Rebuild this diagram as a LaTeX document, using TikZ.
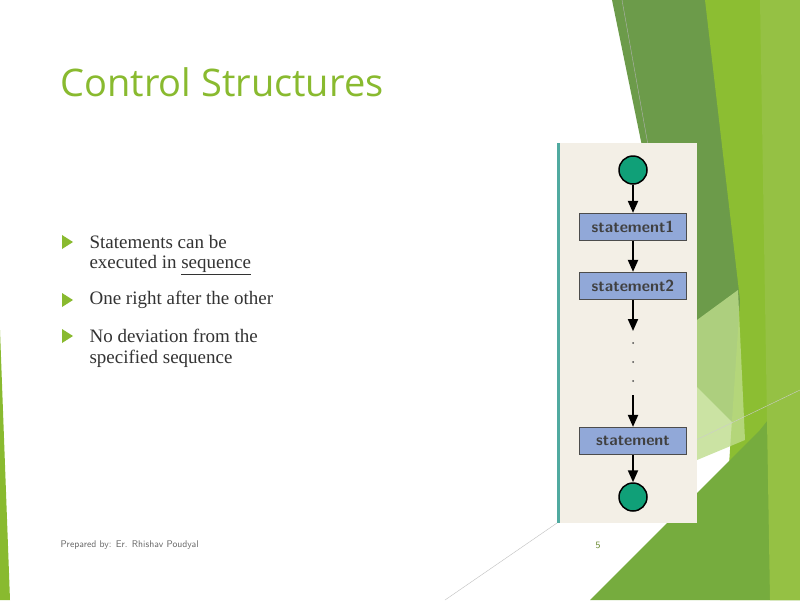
\documentclass[tikz,border=0pt]{standalone}
\usepackage{fontspec}
\setmainfont{Liberation Serif}
\newfontfamily\titlefont{Open Sans}
\usetikzlibrary{arrows.meta}
\definecolor{tgreen}{RGB}{137,186,47}
\definecolor{dgreen}{RGB}{108,155,74}
\definecolor{lgreen}{RGB}{140,190,50}
\definecolor{mgreen}{RGB}{118,172,62}
\definecolor{pgreen}{RGB}{190,220,140}
\definecolor{beige}{RGB}{243,239,230}
\definecolor{boxblue}{RGB}{145,168,216}
\definecolor{circ}{RGB}{16,160,120}
\definecolor{teal}{RGB}{80,170,160}
\tikzset{
  stmt/.style={draw=black!70,fill=boxblue,line width=1.2pt,minimum width=107pt,minimum height=27pt,inner sep=0pt,font=\fontsize{16}{16}\selectfont\sffamily\bfseries,text=black!75},
  endpt/.style={circle,draw=black,fill=circ,line width=1.5pt,minimum size=28pt,inner sep=0pt},
  flow/.style={-{Triangle[length=12pt,width=10pt]},line width=2pt},
  bul/.style={fill=tgreen},
  btext/.style={anchor=west,font=\fontsize{19}{19}\selectfont,text=black!80}
}
\begin{document}
\begin{tikzpicture}[x=1pt,y=-1pt]
\useasboundingbox (0,0) rectangle (800,600);
\fill[white] (0,0) rectangle (800,600);
% decorations
\fill[dgreen] (612,0) -- (740,0) -- (760,450) -- (690,380) -- cycle;
\fill[lgreen] (705,0) -- (800,0) -- (800,600) -- (720,600) -- (740,300) -- cycle;
\fill[pgreen,opacity=0.8] (697,320) -- (738,290) -- (745,440) -- (697,460) -- cycle;
\fill[mgreen] (590,600) -- (760,430) -- (800,380) -- (800,600) -- cycle;
\fill[tgreen!90!white] (760,0) -- (800,0) -- (800,600) -- (770,600) -- cycle;
\fill[tgreen] (0,330) -- (10,600) -- (0,600) -- cycle;
\draw[gray!60,line width=0.4pt] (622,0) -- (648,145);
\draw[gray!50,line width=0.4pt] (445,600) -- (557,523);
\draw[gray!40,line width=0.4pt] (696,440) -- (800,390);
% title
\node[anchor=west,font=\titlefont\fontsize{38}{38}\selectfont,text=tgreen] (title) at (57,82) {Control Structures};
% bullets
\foreach \y in {242,300,336} \fill[bul] (62,\y-7) -- (73,\y) -- (62,\y+7) -- cycle;
\node[btext] (b1a) at (86,242) {Statements can be};
\node[btext] (b1b) at (86,265) {executed in \underline{sequence}};
\node[btext] (b2) at (86,300) {One right after the other};
\node[btext] (b3a) at (86,336) {No deviation from the};
\node[btext] (b3b) at (86,359) {specified sequence};
% footer
\node[anchor=west,font=\sffamily\fontsize{9.7}{9.7}\selectfont,text=black!60] (foot) at (57,545) {Prepared by: Er. Rhishav Poudyal};
\node[font=\sffamily\fontsize{9.7}{9.7}\selectfont,text=tgreen!70!black] (pg) at (598,545) {5};
% flowchart panel
\fill[beige] (557,143) rectangle (697,523);
\fill[teal] (557,143) rectangle (560,523);
\node[endpt] (start) at (633,170) {};
\node[stmt] (s1) at (633,227) {statement1};
\node[stmt] (s2) at (633,286) {statement2};
\coordinate (c1) at (633,331);
\coordinate (c2) at (633,395);
\node[stmt] (sn) at (633,441) {statement};
\node[endpt] (stop) at (633,497) {};
\draw[flow] (start) -- (s1);
\draw[flow] (s1) -- (s2);
\draw[flow] (s2) -- (c1);
\draw[flow] (c2) -- (sn);
\draw[flow] (sn) -- (stop);
\foreach \y in {343,362,381} \fill[black!70] (633,\y) circle (1pt);
\end{tikzpicture}
\end{document}
